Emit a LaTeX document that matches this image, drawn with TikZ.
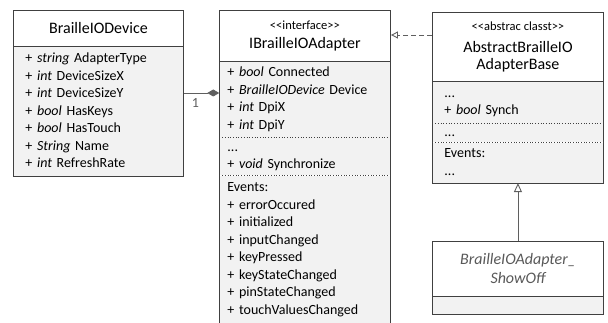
\documentclass[tikz,border=0pt]{standalone}
\usepackage{fontspec}
\setmainfont{Carlito}
\usetikzlibrary{arrows.meta,positioning,calc}
\definecolor{boxline}{RGB}{64,64,64}
\definecolor{boxfill}{RGB}{242,242,242}
\definecolor{connline}{RGB}{95,95,95}
\definecolor{subtext}{RGB}{89,89,89}
\newcommand{\stereo}[1]{{\fontsize{12.5}{14}\selectfont<\kern0pt<#1>\kern0pt>}}

\begin{document}
\begin{tikzpicture}[x=1pt,y=-1pt,
  classhead/.style={draw=boxline,line width=0.9pt,fill=white,align=center,inner sep=0pt,anchor=north west,font=\fontsize{16}{16.5}\selectfont},
  members/.style={fill=boxfill,inner xsep=#1,inner ysep=0pt,align=left,anchor=north,font=\fontsize{14}{17.5}\selectfont,execute at begin node=\strut,execute at end node=\strut},
  members/.default=10pt,
  outline/.style={draw=boxline,line width=0.9pt},
  sepline/.style={boxline,dotted,line width=0.7pt,shorten <=3pt,shorten >=3pt},
  conn/.style={connline,line width=0.9pt}]
\useasboundingbox (0,0) rectangle (608,323);

% BrailleIODevice
\node[classhead,minimum width=170,minimum height=36] (devHead) at (13,10) {BrailleIODevice};
\node[members=12pt,text width=146pt,minimum height=129] (devAttr) at (devHead.south) {+ \textit{string} AdapterType\\ + \textit{int} DeviceSizeX\\ + \textit{int} DeviceSizeY\\ + \textit{bool} HasKeys\\ + \textit{bool} HasTouch\\ + \textit{String} Name\\ + \textit{int} RefreshRate};
\draw[outline] (devHead.north west) rectangle (devAttr.south east);

% IBrailleIOAdapter
\node[classhead,minimum width=171,minimum height=51] (ibHead) at (219,10) {\stereo{interface}\\[3pt] IBrailleIOAdapter};
\node[members=8pt,text width=155pt,minimum height=75] (ibAttr) at (ibHead.south) {+ \textit{bool} Connected\\ + \textit{BrailleIODevice} Device\\ + \textit{int} DpiX\\ + \textit{int} DpiY};
\node[members=8pt,text width=155pt,minimum height=38] (ibOps) at (ibAttr.south) {...\\ + \textit{void} Synchronize};
\node[members=8pt,text width=155pt,minimum height=147] (ibEvents) at (ibOps.south) {Events:\\ + errorOccured\\ + initialized\\ + inputChanged\\ + keyPressed\\ + keyStateChanged\\ + pinStateChanged\\ + touchValuesChanged};
\draw[sepline] (ibAttr.south west) -- (ibAttr.south east);
\draw[sepline] (ibOps.south west) -- (ibOps.south east);
\draw[outline] (ibHead.north west) rectangle (ibEvents.south east);

% AbstractBrailleIOAdapterBase
\node[classhead,minimum width=171,minimum height=69] (absHead) at (432,12) {\stereo{abstrac classt}\\[6pt] AbstractBrailleIO\\ AdapterBase};
\node[members=12pt,text width=147pt,minimum height=41] (absAttr) at (absHead.south) {...\\ + \textit{bool} Synch};
\node[members=12pt,text width=147pt,minimum height=19] (absOps) at (absAttr.south) {...};
\node[members=12pt,text width=147pt,minimum height=40] (absEvents) at (absOps.south) {Events:\\ ...};
\draw[sepline] (absAttr.south west) -- (absAttr.south east);
\draw[sepline] (absOps.south west) -- (absOps.south east);
\draw[outline] (absHead.north west) rectangle (absEvents.south east);

% BrailleIOAdapter_ShowOff
\node[classhead,minimum width=171,minimum height=55,font=\fontsize{16}{16.5}\selectfont\itshape,text=subtext] (soHead) at (432,241) {BrailleIOAdapter\_\\[2.5pt] ShowOff};
\node[fill=boxfill,minimum width=171,minimum height=17,inner sep=0pt,anchor=north] (soBody) at (soHead.south) {};
\draw[outline] (soHead.north west) rectangle (soBody.south east);

% connectors
\coordinate (compY) at (0,93);
\coordinate (realY) at (0,35);
\draw[conn,-{Diamond[length=12pt,width=7pt]}] (devAttr.east |- compY) -- node[pos=0.33,below=2pt,font=\fontsize{14}{17.5}\selectfont] (mult) {1} (ibAttr.west |- compY);
\draw[conn,dash pattern=on 5pt off 3pt,-{Triangle[open,length=7pt,width=7pt]}] (absHead.west |- realY) -- (ibHead.east |- realY);
\draw[conn,-{Triangle[open,length=9pt,width=8pt]}] (soHead.north) -- (absEvents.south);
\end{tikzpicture}
\end{document}
